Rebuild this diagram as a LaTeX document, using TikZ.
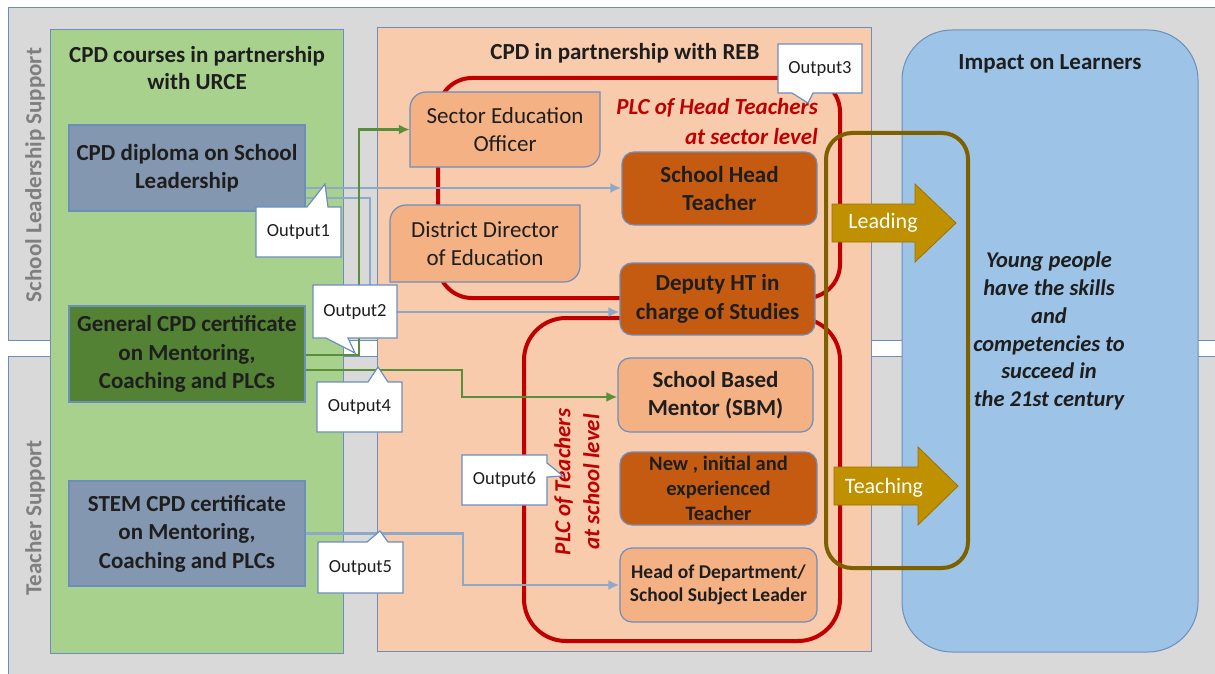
\documentclass[tikz,border=0pt]{standalone}
\usepackage{fontspec}
\setmainfont{Carlito}
\usetikzlibrary{arrows.meta}
\definecolor{bggray}{HTML}{D9D9D9}
\definecolor{edge}{HTML}{6C8EBF}
\definecolor{greenpanel}{HTML}{A9D18E}
\definecolor{orangepanel}{HTML}{F8CBAD}
\definecolor{bluegray}{HTML}{8497B0}
\definecolor{darkgreen}{HTML}{548235}
\definecolor{lightorange}{HTML}{F4B183}
\definecolor{darkorange}{HTML}{C55A11}
\definecolor{impactblue}{HTML}{9DC3E6}
\definecolor{gold}{HTML}{BF9000}
\definecolor{olive}{HTML}{7F6000}
\definecolor{plcred}{HTML}{C00000}
\definecolor{txt}{HTML}{1E1E1E}
\definecolor{lblgray}{HTML}{7F7F7F}
\definecolor{blueline}{HTML}{8EA9C8}
\definecolor{greenline}{HTML}{5A8F3A}
\tikzset{
  panel/.style={draw=edge, line width=1pt},
  cbox/.style={draw=edge, line width=1.2pt, align=center, text=txt, inner sep=0pt,
    font=\bfseries\fontsize{23}{28.5}\selectfont},
  rbox/.style={cbox, rounded corners=12pt},
  plainlbl/.style={align=center, text=txt, inner sep=0pt},
  callout/.style={draw=edge, fill=white, line width=1.2pt, line join=miter},
  calltext/.style={text=txt, inner sep=0pt, font=\fontsize{18.5}{20}\selectfont},
  plc/.style={draw=plcred, line width=4pt},
  conn/.style={line width=2.6pt, -{Latex[length=11pt,width=10pt]}},
  bconn/.style={conn, draw=blueline},
  gconn/.style={conn, draw=greenline},
  bigarrow/.style={fill=gold, draw=gold!80!black, line width=0.8pt},
}
\begin{document}
\begin{tikzpicture}[x=1pt,y=-1pt]
\useasboundingbox (0,0) rectangle (1215,674);
\clip (0,0) rectangle (1215,674);
\fill[white] (0,0) rectangle (1215,674);
% background bands
\draw[panel, fill=bggray] (8,8) rectangle (1240,340);
\draw[panel, fill=bggray] (8,356) rectangle (1240,700);
\node[rotate=90, text=lblgray, font=\bfseries\fontsize{23}{26}\selectfont] (lsl) at (35,175) {School Leadership Support};
\node[rotate=90, text=lblgray, font=\bfseries\fontsize{23}{26}\selectfont] (lts) at (35,518) {Teacher Support};

% green panel
\draw[panel, fill=greenpanel] (50,30) rectangle (343,653);
\node[plainlbl, font=\bfseries\fontsize{23}{27}\selectfont] (gtitle) at (197,68) {CPD courses in partnership\\with URCE};
\node[cbox, fill=bluegray, minimum width=236pt, minimum height=86pt] (box1) at (187,168) {CPD diploma on School\\Leadership};
\node[cbox, fill=darkgreen, minimum width=236pt, minimum height=96pt] (box2) at (187,354) {General CPD certificate\\on Mentoring,\\Coaching and PLCs};
\node[cbox, fill=bluegray, minimum width=236pt, minimum height=105pt] (box3) at (187,533.5) {STEM CPD certificate\\on Mentoring,\\Coaching and PLCs};

% orange panel
\draw[panel, fill=orangepanel] (377,28) rectangle (871,651);
\node[plainlbl, font=\bfseries\fontsize{23}{26}\selectfont] (otitle) at (625,53) {CPD in partnership with REB};

% impact panel
\draw[panel, fill=impactblue, rounded corners=50pt] (902,30) rectangle (1198,652);
\node[plainlbl, font=\bfseries\fontsize{23}{26}\selectfont] (ititle) at (1050,64) {Impact on Learners};
\node[plainlbl, font=\bfseries\itshape\fontsize{22.5}{27.8}\selectfont] (itext) at (1049,331) {Young people\\have the skills\\and\\competencies to\\succeed in\\the 21st century};

% PLC loops
\draw[plc, rounded corners=34pt] (438,78) rectangle (840,298);
\draw[plc, rounded corners=42pt] (524,318) rectangle (840,641);
\node[anchor=east, inner sep=0pt, text=plcred, font=\bfseries\itshape\fontsize{23}{26}\selectfont] (plc1a) at (818,108) {PLC of Head Teachers};
\node[anchor=east, inner sep=0pt, text=plcred, font=\bfseries\itshape\fontsize{23}{26}\selectfont] (plc1b) at (818,137) {at sector level};
\node[rotate=90, align=center, inner sep=0pt, text=plcred, font=\bfseries\itshape\fontsize{23}{29}\selectfont] (plc2) at (577,482) {PLC of Teachers\\at school level};

% diagonal-rounded boxes
\draw[draw=edge, line width=1.2pt, fill=lightorange] (410,167) -- (410,108) .. controls (410,99.2) and (417.2,92) .. (426,92) -- (600,92) -- (600,151) .. controls (600,159.8) and (592.8,167) .. (584,167) -- cycle;
\node[plainlbl, minimum width=190pt, minimum height=75pt, font=\fontsize{23}{28}\selectfont] (seo) at (505,129.5) {Sector Education\\Officer};
\draw[draw=edge, line width=1.2pt, fill=lightorange] (390,282) -- (390,221) .. controls (390,212.2) and (397.2,205) .. (406,205) -- (580,205) -- (580,266) .. controls (580,274.8) and (572.8,282) .. (564,282) -- cycle;
\node[plainlbl, minimum width=190pt, minimum height=77pt, font=\fontsize{23}{28}\selectfont] (dde) at (485,243.5) {District Director\\of Education};

% role boxes
\node[rbox, fill=darkorange, minimum width=195pt, minimum height=73pt] (sht) at (719.5,188.5) {School Head\\Teacher};
\node[rbox, fill=darkorange, minimum width=195pt, minimum height=72pt] (dep) at (717.5,299) {Deputy HT in\\charge of Studies};
\node[rbox, fill=lightorange, minimum width=195pt, minimum height=74pt] (sbm) at (715.5,395) {School Based\\Mentor (SBM)};
\node[rbox, fill=darkorange, minimum width=197pt, minimum height=73pt, font=\bfseries\fontsize{20.5}{25}\selectfont] (newt) at (718.5,488.5) {New , initial and\\experienced\\Teacher};
\node[rbox, fill=lightorange, minimum width=197pt, minimum height=74pt, font=\bfseries\fontsize{19.5}{22.5}\selectfont] (hod) at (718.5,585) {Head of Department/\\School Subject Leader};

% olive loop and arrows
\draw[draw=olive, line width=4pt, rounded corners=26pt] (826,133) rectangle (968,568);
\draw[bigarrow] (832,204) -- (915,204) -- (915,184) -- (956,223) -- (915,262) -- (915,242) -- (832,242) -- cycle;
\node[text=white, inner sep=0pt, font=\fontsize{22}{24}\selectfont] (lead) at (883,223) {Leading};
\draw[bigarrow] (834,467) -- (918,467) -- (918,447) -- (958,486) -- (918,525) -- (918,505) -- (834,505) -- cycle;
\node[text=white, inner sep=0pt, font=\fontsize{22}{24}\selectfont] (teach) at (884,488) {Teaching};

% connectors
\draw[bconn] (box1.east |- 0,188) -- (sht.west |- 0,188);
\draw[bconn] (box1.east |- 0,198) -- (370,198) -- (370,312) -- (dep.west |- 0,312);
\draw[gconn] (box2.east |- 0,355) -- (359,355) |- (seo.west);
\draw[gconn] (box2.east |- 0,370) -- (462,370) -- (462,397) -- (sbm.west |- 0,397);
\draw[bconn] (box3.east) -- (463,533.5) |- (hod.west);

% callouts
\draw[callout] (256,207) -- (307,207) -- (325,184) -- (328,207) -- (341,207) -- (341,257) -- (256,257) -- cycle;
\node[calltext] (o1) at (298.5,232) {Output1};
\draw[callout] (313,285) -- (397,285) -- (397,338) -- (348,338) -- (355,353) -- (326,338) -- (313,338) -- cycle;
\node[calltext] (o2) at (355,311.5) {Output2};
\draw[callout] (778,44) -- (862,44) -- (862,93) -- (813,93) -- (808,103) -- (792,93) -- (778,93) -- cycle;
\node[calltext] (o3) at (820,68.5) {Output3};
\draw[callout] (317,382) -- (368,382) -- (378,367) -- (388,382) -- (402,382) -- (402,432) -- (317,432) -- cycle;
\node[calltext] (o4) at (359.5,407) {Output4};
\draw[callout] (318,542) -- (367,542) -- (380,531) -- (388,542) -- (403,542) -- (403,593) -- (318,593) -- cycle;
\node[calltext] (o5) at (360.5,567.5) {Output5};
\draw[callout] (462,455) -- (547,455) -- (547,463) -- (563,476) -- (547,477) -- (547,505) -- (462,505) -- cycle;
\node[calltext] (o6) at (504.5,480) {Output6};
\end{tikzpicture}
\end{document}
